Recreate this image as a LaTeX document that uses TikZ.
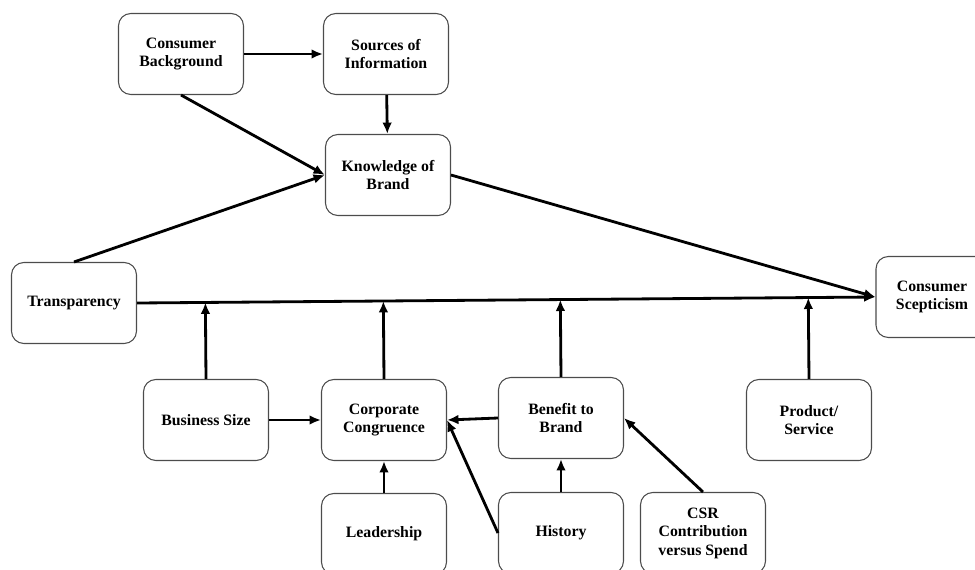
\documentclass[tikz,border=0pt]{standalone}
\usepackage{fontspec}
\setmainfont{Liberation Serif}
\usetikzlibrary{calc,arrows.meta}

\begin{document}
\begin{tikzpicture}[x=0.02cm,y=-0.02cm,
  box/.style={draw=black!70,line width=0.6pt,rounded corners=7pt,minimum width=2.5cm,minimum height=1.62cm,align=center,font=\fontsize{9}{10.5}\selectfont\bfseries},
  arr/.style={-{Latex[length=6.5pt,width=5.5pt]},line width=1.6pt}]
\useasboundingbox (0,0) rectangle (975,569);
\clip (0,0) rectangle (975,569);
\node[box] (cb) at (181,54) {Consumer\\Background};
\node[box] (si) at (386,54) {Sources of\\Information};
\node[box] (kb) at (388,175) {Knowledge of\\Brand};
\node[box] (tr) at (74,303) {Transparency};
\node[box,minimum width=2.24cm] (cs) at (932,297) {Consumer\\Scepticism};
\node[box] (bs) at (206,420) {Business Size};
\node[box] (cc) at (384,420) {Corporate\\Congruence};
\node[box] (bb) at (561,418) {Benefit to\\Brand};
\node[box] (ps) at (809,420) {Product/\\Service};
\node[box] (le) at (384,534) {Leadership};
\node[box] (hi) at (561,533) {History};
\node[box] (csr) at (703,533) {CSR\\Contribution\\versus Spend};
% points where the moderators meet the main path
\coordinate (bsend) at ($(tr.east)!(bs.north)!(cs.west)$);
\coordinate (ccend) at ($(tr.east)!(cc.north)!(cs.west)$);
\coordinate (bbend) at ($(tr.east)!(bb.north)!(cs.west)$);
\coordinate (psend) at ($(tr.east)!(ps.north)!(cs.west)$);
\draw[arr] (cb) -- (si);
\draw[arr] (si) -- (kb);
\draw[arr] (cb.south) -- (kb.west);
\draw[arr] (tr.north) -- (kb.west);
\draw[arr] (kb.east) -- (cs.west);
\draw[arr] (tr.east) -- (cs.west);
\draw[arr] (bs.north) -- (bsend);
\draw[arr] (cc.north) -- (ccend);
\draw[arr] (bb.north) -- (bbend);
\draw[arr] (ps.north) -- (psend);
\draw[arr] (bs) -- (cc);
\draw[arr] (bb.west) -- (cc.east);
\draw[arr] (le) -- (cc);
\draw[arr] (hi.west) -- (cc.east);
\draw[arr] (hi) -- (bb);
\draw[arr] (csr.north) -- (bb.east);
\end{tikzpicture}
\end{document}
